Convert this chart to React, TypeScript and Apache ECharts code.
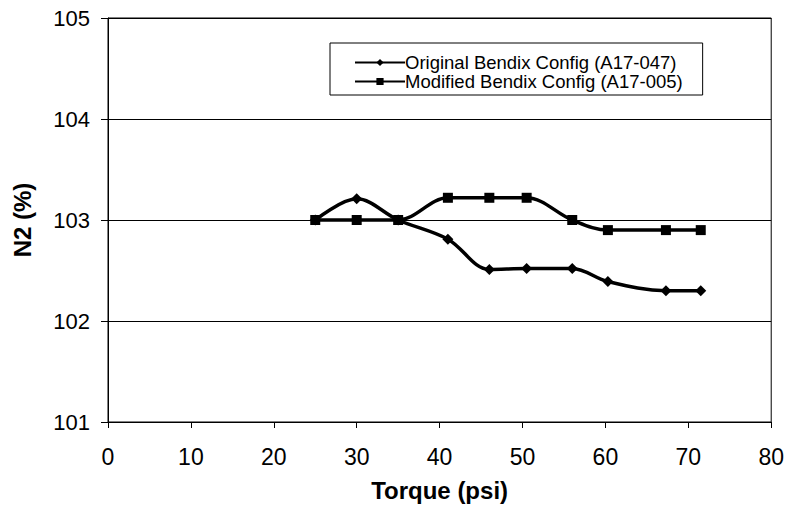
import React, { useEffect, useRef } from "react";
import * as echarts from "echarts";

const torque = [25, 30, 35, 41, 46, 50.5, 56, 60.3, 67.3, 71.5];
const original = [103.0, 103.21, 103.0, 102.81, 102.51, 102.52, 102.52, 102.39, 102.3, 102.3];
const modified = [103.0, 103.0, 103.0, 103.22, 103.22, 103.22, 103.0, 102.9, 102.9, 102.9];
const seriesNames = ["Original Bendix Config (A17-047)", "Modified Bendix Config (A17-005)"];
const xTitle = "Torque (psi)";
const yTitle = "N2 (%)";

const font = "Liberation Sans, Arial, sans-serif";

export default function App() {
  const ref = useRef<HTMLDivElement>(null);
  useEffect(() => {
    if (!ref.current) return;
    const chart = echarts.init(ref.current, undefined, { renderer: "svg" });
    const mk = (vals: number[]) => torque.map((x, i) => [x, vals[i]]);
    chart.setOption({
      animation: false,
      backgroundColor: "#fff",
      textStyle: { fontFamily: font, color: "#000" },
      grid: { left: 108, right: 15, top: 18, bottom: 86, show: true, borderColor: "#000", borderWidth: 1 },
      legend: {
        orient: "vertical",
        left: 330,
        top: 43,
        padding: [10, 20, 4, 24],
        borderColor: "#000",
        borderWidth: 1,
        itemWidth: 50,
        itemHeight: 9,
        itemGap: 0,
        textStyle: { fontSize: 18.5, lineHeight: 18, fontFamily: font, color: "#000", padding: [0, 0, 0, -5] },
        data: seriesNames,
      },
      xAxis: {
        type: "value",
        min: 0,
        max: 80,
        interval: 10,
        name: xTitle,
        nameLocation: "middle",
        nameGap: 56,
        nameTextStyle: { fontSize: 24, fontWeight: "bold", color: "#000", fontFamily: font },
        axisLine: { lineStyle: { color: "#000", width: 1 } },
        axisTick: { show: true, length: 6, lineStyle: { color: "#000" } },
        axisLabel: { fontSize: 23, color: "#000", margin: 23, fontFamily: font },
        splitLine: { show: false },
      },
      yAxis: {
        type: "value",
        min: 101,
        max: 105,
        interval: 1,
        name: yTitle,
        nameLocation: "middle",
        nameGap: 74,
        nameTextStyle: { fontSize: 24, fontWeight: "bold", color: "#000", fontFamily: font },
        axisLine: { show: true, lineStyle: { color: "#000", width: 1 } },
        axisTick: { show: true, length: 7, lineStyle: { color: "#000" } },
        axisLabel: { fontSize: 22, color: "#000", margin: 18, fontFamily: font },
        splitLine: { show: true, lineStyle: { color: "#000", width: 1 } },
      },
      series: [
        {
          name: seriesNames[0],
          type: "line",
          data: mk(original),
          smooth: 0.35,
          symbol: "diamond",
          symbolSize: 11,
          itemStyle: { color: "#000" },
          lineStyle: { color: "#000", width: 3.5 },
        },
        {
          name: seriesNames[1],
          type: "line",
          data: mk(modified),
          smooth: 0.35,
          symbol: "rect",
          symbolSize: 10,
          itemStyle: { color: "#000" },
          lineStyle: { color: "#000", width: 3.5 },
        },
      ],
    });
    return () => chart.dispose();
  }, []);
  return <div ref={ref} style={{ width: 787, height: 508, position: "absolute", left: 0, top: 0 }} />;
}
